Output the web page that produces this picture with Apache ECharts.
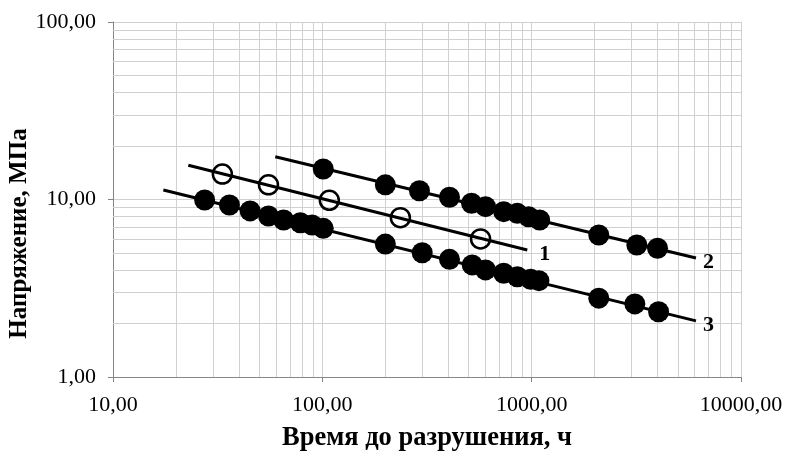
<!DOCTYPE html>
<html>
<head>
<meta charset="utf-8">
<script src="https://cdn.jsdelivr.net/npm/echarts@6/dist/echarts.min.js"></script>
<style>html,body{margin:0;padding:0;background:#fff}#c{width:787px;height:452px}</style>
</head>
<body>
<div id="c"></div>
<script>
// Series 1 (open circles)
const s1X = [33.3, 55.3, 108, 236, 570];
const s1Y = [13.9, 12.1, 9.9, 7.9, 6.0];
// Series 2 (filled circles, upper)
const s2X = [101, 200, 291, 405, 516, 602, 735, 854, 967, 1092, 2092, 3180, 3993];
const s2Y = [14.85, 12.1, 11.2, 10.3, 9.52, 9.11, 8.54, 8.36, 8.0, 7.66, 6.31, 5.54, 5.31];
// Series 3 (filled circles, lower)
const s3X = [27.4, 36.0, 45.2, 55.3, 65.3, 78.5, 89.3, 101, 200, 300, 405, 520, 602, 735, 854, 989, 1083, 2092, 3111, 4039];
const s3Y = [9.93, 9.31, 8.62, 8.07, 7.66, 7.40, 7.18, 6.88, 5.61, 5.01, 4.60, 4.28, 4.01, 3.84, 3.67, 3.55, 3.49, 2.78, 2.58, 2.33];
// Trend lines (endpoints)
const l1X = [22.9, 953];  const l1Y = [15.6, 5.19];
const l2X = [59.6, 6095]; const l2Y = [17.4, 4.68];
const l3X = [17.4, 6095]; const l3Y = [11.3, 2.07];
const lineNames = ['1', '2', '3'];
// Minor grid positions
const minorX = [20,30,40,50,60,70,80,90,200,300,400,500,600,700,800,900,2000,3000,4000,5000,6000,7000,8000,9000];
const minorY = [2,3,4,5,6,7,8,9,20,30,40,50,60,70,80,90];
const xName = 'Время до разрушения, ч';
const yName = 'Напряжение, МПа';

const zip = (a, b) => a.map((v, i) => [v, b[i]]);
const fmt = v => Number(v).toFixed(2).replace('.', ',');
const FONT = 'Liberation Serif';
const gridColor = '#d0d0d0';

const chart = echarts.init(document.getElementById('c'), null, {renderer: 'canvas'});

function trend(x, y, name, dist) {
  return {
    type: 'line', data: zip(x, y), symbol: 'none', silent: true,
    lineStyle: {color: '#000', width: 3},
    endLabel: {show: true, formatter: name, distance: dist, offset: [0, 4],
      fontFamily: FONT, fontWeight: 'bold', fontSize: 22, color: '#000'}
  };
}

const markLines = [].concat(
  minorX.map(v => ({xAxis: v})),
  minorY.map(v => ({yAxis: v}))
);

const s1 = trend(l1X, l1Y, lineNames[0], 12);
s1.markLine = {silent: true, symbol: ['none', 'none'], z: 1, animation: false,
  label: {show: false}, lineStyle: {color: gridColor, type: 'solid', width: 1, opacity: 1}, data: markLines};

chart.setOption({
  animation: false,
  backgroundColor: '#fff',
  grid: {left: 113, right: 46, top: 22, bottom: 75, containLabel: false, outerBoundsMode: 'none'},
  xAxis: {
    type: 'log', logBase: 10, min: 10, max: 10000,
    name: xName, nameLocation: 'middle', nameGap: 48, nameMoveOverlap: false,
    nameTextStyle: {fontFamily: FONT, fontWeight: 'bold', fontSize: 26.5, color: '#000'},
    axisLine: {lineStyle: {color: '#868686', width: 1}},
    axisTick: {show: true, length: 5, lineStyle: {color: '#868686'}},
    axisLabel: {formatter: fmt, margin: 17, fontFamily: FONT, fontSize: 22, color: '#000'},
    splitLine: {show: true, lineStyle: {color: gridColor, width: 1}}
  },
  yAxis: {
    type: 'log', logBase: 10, min: 1, max: 100,
    name: yName, nameLocation: 'middle', nameGap: 81, nameMoveOverlap: false,
    nameTextStyle: {fontFamily: FONT, fontWeight: 'bold', fontSize: 25, color: '#000', padding: [0, 68, 0, 0]},
    axisLine: {show: true, lineStyle: {color: '#868686', width: 1}},
    axisTick: {show: true, length: 5, lineStyle: {color: '#868686'}},
    axisLabel: {formatter: fmt, margin: 17, fontFamily: FONT, fontSize: 22, color: '#000'},
    splitLine: {show: true, lineStyle: {color: gridColor, width: 1}}
  },
  series: [
    s1,
    trend(l2X, l2Y, lineNames[1], 7),
    trend(l3X, l3Y, lineNames[2], 7),
    {type: 'scatter', data: zip(s1X, s1Y), symbol: 'circle', symbolSize: 19, silent: true,
      itemStyle: {color: 'rgba(255,255,255,0)', borderColor: '#000', borderWidth: 2.5, opacity: 1}, z: 3},
    {type: 'scatter', data: zip(s2X, s2Y), symbol: 'circle', symbolSize: 21, silent: true,
      itemStyle: {color: '#000', opacity: 1}, z: 3},
    {type: 'scatter', data: zip(s3X, s3Y), symbol: 'circle', symbolSize: 21, silent: true,
      itemStyle: {color: '#000', opacity: 1}, z: 3}
  ]
});
</script>
</body>
</html>
